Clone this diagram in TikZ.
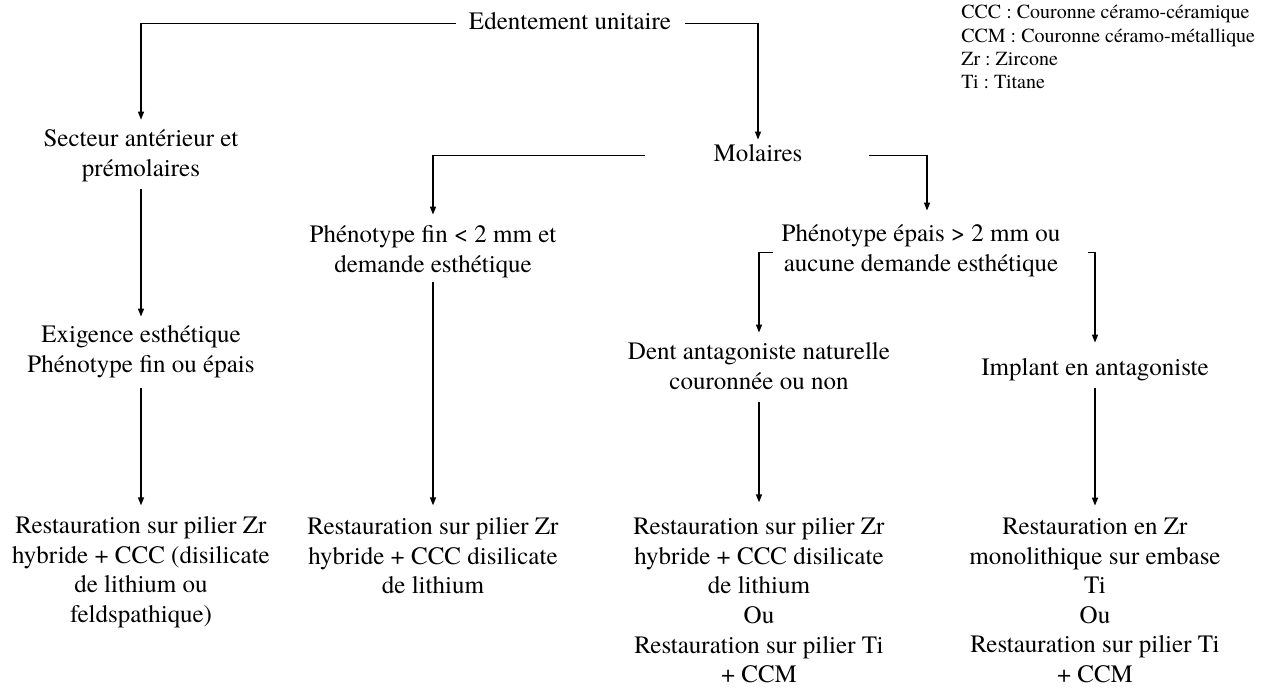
\documentclass[tikz,border=0pt]{standalone}
\usepackage{fontspec}
\setmainfont{texgyretermes}[Extension=.otf, UprightFont=*-regular, BoldFont=*-bold, ItalicFont=*-italic, BoldItalicFont=*-bolditalic]
\usetikzlibrary{arrows.meta}
\frenchspacing
\begin{document}
\begin{tikzpicture}[x=0.75pt,y=-0.75pt,
  lbl/.style={align=center, inner sep=0pt, font=\fontsize{18.75pt}{22.2pt}\selectfont,
    execute at begin node=\strut, execute at end node=\strut},
  legendbox/.style={anchor=north west, align=left, inner sep=0pt, font=\fontsize{15pt}{17.55pt}\selectfont,
    execute at begin node=\strut, execute at end node=\strut},
  arr/.style={line width=1pt, -{Triangle[length=6pt,width=4.5pt]}}]
\useasboundingbox (0,0) rectangle (1263,689);

\node[lbl] (edent) at (570,23.6) {Edentement unitaire};
\node[lbl] (secteur) at (141,157.6) {Secteur antérieur et\\prémolaires};
\node[lbl] (exig) at (141,353.6) {Exigence esthétique\\Phénotype fin ou épais};
\node[lbl] (rest1) at (141,574) {Restauration sur pilier Zr\\hybride + CCC (disilicate\\de lithium ou\\feldspathique)};
\node[lbl] (mol) at (758,155.6) {Molaires};
\node[lbl] (pfin) at (433,253.6) {Phénotype fin < 2 mm et\\demande esthétique};
\node[lbl] (pep) at (921,252.6) {Phénotype épais > 2 mm ou\\aucune demande esthétique};
\node[lbl] (dent) at (759,370.6) {Dent antagoniste naturelle\\couronnée ou non};
\node[lbl] (impl) at (1095,369.6) {Implant en antagoniste};
\node[lbl] (rest2) at (433,560.2) {Restauration sur pilier Zr\\hybride + CCC disilicate\\de lithium};
\node[lbl] (rest3) at (759,604.6) {Restauration sur pilier Zr\\hybride + CCC disilicate\\de lithium\\Ou\\Restauration sur pilier Ti\\+ CCM};
\node[lbl] (rest4) at (1095,604.6) {Restauration en Zr\\monolithique sur embase\\Ti\\Ou\\Restauration sur pilier Ti\\+ CCM};
\node[legendbox] (legend) at (961,5) {CCC : Couronne céramo-céramique\\CCM : Couronne céramo-métallique\\Zr : Zircone\\Ti : Titane};

\draw[arr, shorten <=9.75pt, shorten >=7.5pt] (edent.west) -| (secteur.north);
\draw[arr, shorten <=10.5pt, shorten >=0.75pt] (edent.east) -| (mol.north);
\draw[arr, shorten <=2.7pt, shorten >=6.75pt] (secteur.south) -- (exig.north);
\draw[arr, shorten <=5pt, shorten >=8.25pt] (exig.south) -- (rest1.north);
\draw[arr, shorten <=51pt, shorten >=8.25pt] (mol.west) -| (pfin.north);
\draw[arr, shorten <=50pt, shorten >=10.5pt] (mol.east) -| ([xshift=4.5pt]pep.north);
\draw[arr, shorten <=0.5pt, shorten >=9pt] (pfin.south) -- (rest2.north);
\draw[arr, shorten <=6.4pt, shorten >=7.5pt] (pep.west) -| (dent.north);
\draw[arr, shorten <=20.6pt, shorten >=9pt] (pep.east) -| (impl.north);
\draw[arr, shorten <=2.7pt, shorten >=11.25pt] (dent.south) -- (rest3.north);
\draw[arr, shorten <=2.7pt, shorten >=9pt] (impl.south) -- (rest4.north);
\end{tikzpicture}
\end{document}
